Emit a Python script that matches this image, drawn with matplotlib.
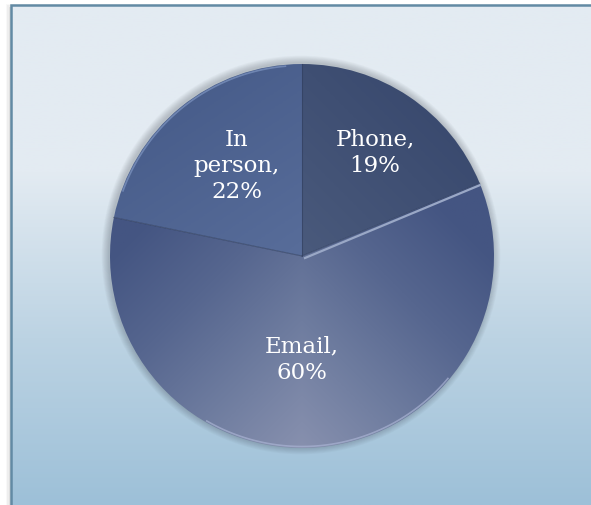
import numpy as np
import matplotlib
matplotlib.use("Agg")
import matplotlib.pyplot as plt
from matplotlib.patches import Rectangle, Circle
from matplotlib.colors import LinearSegmentedColormap

categories = ["Phone", "Email", "In person"]
values = [19, 60, 22]
pct_labels = ["19%", "60%", "22%"]

W, H = 591, 506
fig = plt.figure(figsize=(W / 100, H / 100), dpi=100)
ax = fig.add_axes([0, 0, 1, 1])
ax.set_xlim(0, W)
ax.set_ylim(0, H)
ax.axis("off")

# outer white + shadow
fig.patch.set_facecolor("white")
for i, a in enumerate([0.05, 0.08, 0.12]):
    ax.add_patch(Rectangle((6 + i * 1.3, -5), W, H - i * 1.3, facecolor="#7a7a7a",
                           alpha=a, edgecolor="none", zorder=0))

# background gradient panel
x0, y0, x1, y1 = 11, 0, W, H - 6
grad = np.linspace(0, 1, 256).reshape(-1, 1)
bg_cmap = LinearSegmentedColormap.from_list("bg", ["#9dc0d8", "#bcd3e3", "#e3ebf2", "#e3ebf2"])
ax.imshow(grad, cmap=bg_cmap, extent=[x0, x1, y0, y1], origin="lower",
          aspect="auto", zorder=1)
ax.add_patch(Rectangle((x0, y0 - 2), x1 - x0 + 5, y1 - y0 + 2, facecolor="none",
                       edgecolor="#628aa4", linewidth=1.8, zorder=2))

cx, cy, R = 302, 249, 192

# soft shadow around pie
for k in range(8):
    ax.add_patch(Circle((cx - 1, cy + 1), R + 1 + k * 0.9, facecolor="#2a2f3a",
                        alpha=0.03, edgecolor="none", zorder=3))

wedges, _ = ax.pie(values, startangle=90, counterclock=False, center=(cx, cy),
                   radius=R, frame=True,
                   wedgeprops=dict(edgecolor="none", linewidth=0))
for w in wedges:
    w.set_zorder(4)

# gradient fills
cmaps = [
    LinearSegmentedColormap.from_list("ph", ["#68758f", "#4a5a7c", "#34446a"]),
    LinearSegmentedColormap.from_list("em", ["#8790ae", "#6e7c9f", "#56668f", "#445582"]),
    LinearSegmentedColormap.from_list("ip", ["#7688af", "#586d9a", "#435886"]),
]
yy, xx = np.mgrid[0:300, 0:300]
u = xx / 299.0
v = yy / 299.0
fields = [
    np.clip(0.5 * (u + v), 0, 1),
    np.clip(1.0 * v + 0.5 * np.abs(u - 0.5) * 2, 0, 1),
    np.clip(0.6 * v + 0.4 * (1 - u), 0, 1),
]
for w, cm, f in zip(wedges, cmaps, fields):
    w.set_facecolor("none")
    im = ax.imshow(f, cmap=cm, extent=[cx - R, cx + R, cy - R, cy + R],
                   origin="lower", aspect="auto", zorder=4.5, vmin=0, vmax=1)
    im.set_clip_path(w)

# slice edges
for w in wedges:
    t = np.deg2rad(w.theta1)
    ax.plot([cx, cx + R * np.cos(t)], [cy, cy + R * np.sin(t)],
            color="#2f3d5e", lw=0.8, alpha=0.6, zorder=5)
t = np.deg2rad(wedges[0].theta1)
ax.plot([cx + 3, cx + R * np.cos(t)], [cy - 2, cy + R * np.sin(t) - 2],
        color="#9aa8c6", lw=1.6, zorder=5.5)
# rim highlight
th = np.linspace(np.deg2rad(95), np.deg2rad(160), 100)
ax.plot(cx + (R - 1.5) * np.cos(th), cy + (R - 1.5) * np.sin(th),
        color="#7f96c2", lw=1.2, alpha=0.7, zorder=5)
th = np.linspace(np.deg2rad(-120), np.deg2rad(-40), 100)
ax.plot(cx + (R - 1.5) * np.cos(th), cy + (R - 1.5) * np.sin(th),
        color="#a9b3d3", lw=1.2, alpha=0.7, zorder=5)

# labels
label_pos = [(375, 506 - 153), (302, 506 - 360), (237, 506 - 166)]
texts = ["Phone,\n" + pct_labels[0], "Email,\n" + pct_labels[1],
         "In\nperson,\n" + pct_labels[2]]
for (lx, ly), s in zip(label_pos, texts):
    ax.text(lx, ly, s, ha="center", va="center", color="white",
            fontsize=16.5, family="DejaVu Serif", linespacing=1.25, zorder=6)

fig.savefig("out.png", dpi=100)
